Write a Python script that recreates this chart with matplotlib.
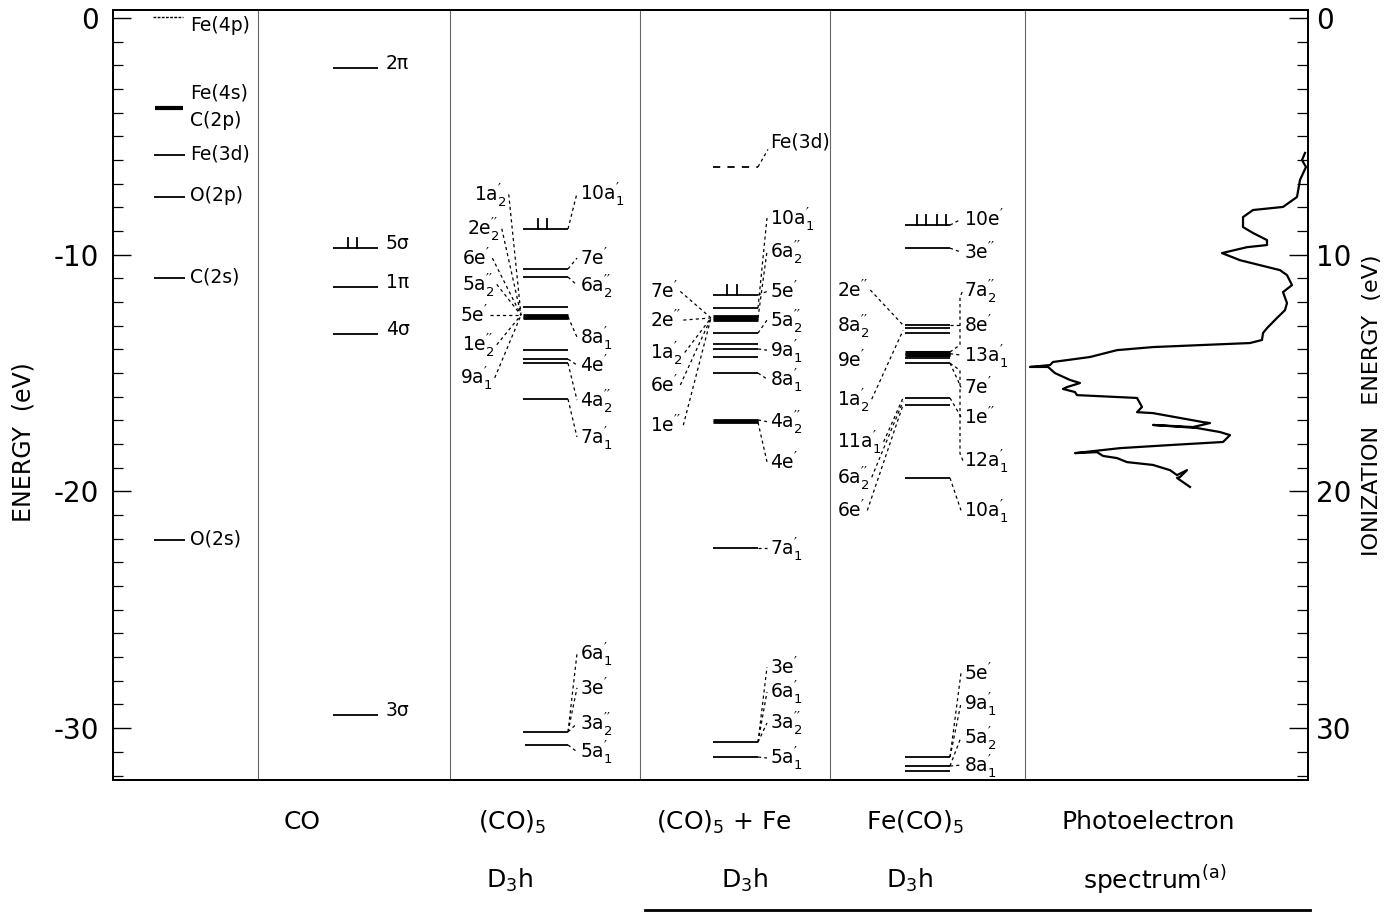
import matplotlib
matplotlib.use("Agg")
import matplotlib.pyplot as plt
from matplotlib.ticker import MultipleLocator, FixedLocator
from matplotlib.lines import Line2D

plt.rcParams['font.family'] = ['DejaVu Sans']
plt.rcParams['mathtext.fontset'] = 'dejavusans'
plt.rcParams['mathtext.default'] = 'regular'
plt.rcParams['axes.unicode_minus'] = False

# ------------------------------------------------------------------ data
# atomic orbitals (eV)
atom_levels = [0.05, -3.80, -5.79, -7.56, -10.98, -22.05]
atom_labels = ["Fe(4p)", "Fe(4s)", "C(2p)", "Fe(3d)", "O(2p)", "C(2s)", "O(2s)"]
atom_label_E = [-0.30, -3.17, -4.31, -5.75, -7.50, -10.95, -22.0]

# CO
co_levels = [-2.11, -9.72, -11.37, -13.35, -29.45]
co_labels = ["2π", "5σ", "1π", "4σ", "3σ"]

# (CO)5  D3h
co5_levels = [-8.91, -10.60, -10.94, -12.21, -12.55, -12.62, -12.69,
              -14.03, -14.41, -14.58, -16.10, -30.16, -30.71]
co5_left_labels = [r"1a$_2^{\prime}$", r"2e$_2^{\prime\prime}$", r"6e$^{\prime}$",
                   r"5a$_2^{\prime\prime}$", r"5e$^{\prime}$", r"1e$_2^{\prime\prime}$",
                   r"9a$_1^{\prime}$"]
co5_left_E = [-7.45, -8.90, -10.14, -11.25, -12.55, -13.80, -15.20]
co5_right_labels = [r"10a$_1^{\prime}$", r"7e$^{\prime}$", r"6a$_2^{\prime\prime}$",
                    r"8a$_1^{\prime}$", r"4e$^{\prime}$", r"4a$_2^{\prime\prime}$",
                    r"7a$_1^{\prime}$", r"6a$_1^{\prime}$", r"3e$^{\prime}$",
                    r"3a$_2^{\prime\prime}$", r"5a$_1^{\prime}$"]
co5_right_E = [-7.40, -10.14, -11.28, -13.48, -14.66, -16.14, -17.70,
               -26.85, -28.30, -29.80, -31.00]
co5_right_link = [-8.91, -10.60, -10.94, -12.62, -14.41, -14.58, -16.10,
                  -30.16, -30.16, -30.16, -30.71]

# (CO)5 + Fe  D3h
fe3d_level = -6.29
cofe_levels = [-11.70, -12.25, -12.60, -12.67, -12.74, -13.31, -13.77, -13.98,
               -14.32, -15.00, -16.98, -17.08, -22.39, -30.59, -31.22]
cofe_left_labels = [r"7e$^{\prime}$", r"2e$^{\prime\prime}$", r"1a$_2^{\prime}$",
                    r"6e$^{\prime}$", r"1e$^{\prime\prime}$"]
cofe_left_E = [-11.55, -12.76, -14.13, -15.50, -17.20]
cofe_right_labels = [r"10a$_1^{\prime}$", r"6a$_2^{\prime\prime}$", r"5e$^{\prime}$",
                     r"5a$_2^{\prime\prime}$", r"9a$_1^{\prime}$", r"8a$_1^{\prime}$",
                     r"4a$_2^{\prime\prime}$", r"4e$^{\prime}$", r"7a$_1^{\prime}$",
                     r"3e$^{\prime}$", r"6a$_1^{\prime}$", r"3a$_2^{\prime\prime}$",
                     r"5a$_1^{\prime}$"]
cofe_right_E = [-8.45, -9.85, -11.55, -12.76, -14.03, -15.25, -17.05, -18.75,
                -22.39, -27.42, -28.47, -29.78, -31.26]
cofe_right_link = [-12.25, -12.67, -11.70, -13.31, -13.98, -15.00, -16.98, -17.08,
                   -22.39, -30.59, -30.59, -30.59, -31.22]

# Fe(CO)5  D3h
feco_levels = [-8.75, -9.72, -12.97, -13.10, -13.31, -14.11, -14.18, -14.24,
               -14.36, -14.58, -16.05, -16.35, -19.43, -31.22, -31.60, -31.81]
feco_left_labels = [r"2e$^{\prime\prime}$", r"8a$_2^{\prime\prime}$", r"9e$^{\prime}$",
                    r"1a$_2^{\prime}$", r"11a$_1^{\prime}$", r"6a$_2^{\prime\prime}$",
                    r"6e$^{\prime}$"]
feco_left_E = [-11.49, -12.97, -14.45, -16.10, -17.90, -19.40, -20.80]
feco_left_link = [-12.97, None, None, -13.20, -16.05, -16.20, -16.35]
feco_right_labels = [r"10e$^{\prime}$", r"3e$^{\prime\prime}$", r"7a$_2^{\prime\prime}$",
                     r"8e$^{\prime}$", r"13a$_1^{\prime}$", r"7e$^{\prime}$",
                     r"1e$^{\prime\prime}$", r"12a$_1^{\prime}$", r"10a$_1^{\prime}$",
                     r"5e$^{\prime}$", r"9a$_1^{\prime}$", r"5a$_2^{\prime}$",
                     r"8a$_1^{\prime}$"]
feco_right_E = [-8.50, -9.89, -11.49, -12.97, -14.24, -15.60, -16.85, -18.70,
                -20.80, -27.67, -28.94, -30.38, -31.56]
feco_right_link = [-8.75, -9.72, -14.11, -12.97, -14.18, -14.58, -16.05, -14.58,
                   -19.43, -31.22, -31.22, -31.60, -31.60]

# photoelectron spectrum: ionization energy (eV) and intensity (arb.)
spec_IE = [5.70, 6.00, 6.29, 6.84, 7.56, 7.98, 8.11, 8.41, 8.83, 9.08, 9.38, 9.59,
           9.68, 9.93, 10.23, 10.44, 10.65, 10.86, 11.28, 11.58, 12.04, 12.34, 12.67,
           13.10, 13.31, 13.60, 13.73, 13.90, 14.03, 14.32, 14.53, 14.66, 14.74, 14.74,
           15.00, 15.29, 15.42, 15.59, 15.67, 15.80, 15.93, 16.05, 16.43, 16.65, 16.69,
           17.07, 17.11, 17.28, 17.19, 17.32, 17.49, 17.62, 17.91, 18.04, 18.17, 18.38,
           18.34, 18.50, 18.59, 18.76, 18.88, 19.10, 19.31, 19.10, 19.39, 19.43, 19.81]
spec_I = [3, 6, 2, 8, 11, 25, 55, 65, 65, 55, 41, 41, 61, 86, 68, 48, 28, 21, 16, 25,
          21, 23, 31, 41, 45, 46, 58, 155, 191, 218, 255, 258, 278, 260, 253, 238, 228,
          241, 245, 233, 231, 171, 166, 171, 155, 105, 98, 115, 155, 111, 88, 78, 85,
          138, 188, 233, 211, 205, 191, 181, 155, 138, 131, 121, 128, 131, 118]

left_ticks = [0, -10, -20, -30]
right_ticks = [0, 10, 20, 30]
bottom_titles = ["CO", "(CO)$_5$", "(CO)$_5$ + Fe", "Fe(CO)$_5$", "Photoelectron"]
bottom_sub = ["D$_3$h", "D$_3$h", "D$_3$h", "spectrum$^{(a)}$"]

# ------------------------------------------------------------------ figure
W, H = 1397, 915
fig = plt.figure(figsize=(W / 100, H / 100), dpi=100)
ax = fig.add_axes([113 / W, 1 - 780 / H, (1308 - 113) / W, 770 / H])
ax.set_xlim(113, 1308)
ax.set_ylim(-32.19, 0.34)
ax.set_xticks([])
ax.yaxis.set_major_locator(FixedLocator(left_ticks))
ax.yaxis.set_minor_locator(MultipleLocator(1))
ax.tick_params(axis='y', which='major', direction='in', length=13, width=1.0,
               labelsize=20, pad=10)
ax.tick_params(axis='y', which='minor', direction='in', length=7, width=0.9)
for s in ax.spines.values():
    s.set_linewidth(1.4)

ax2 = ax.twinx()
ax2.set_ylim(32.19, -0.34)
ax2.yaxis.set_major_locator(FixedLocator(right_ticks))
ax2.yaxis.set_minor_locator(MultipleLocator(1))
ax2.tick_params(axis='y', which='major', direction='in', length=14, width=1.0,
                labelsize=20, pad=6)
ax2.tick_params(axis='y', which='minor', direction='in', length=8, width=0.9)
for s in ax2.spines.values():
    s.set_linewidth(1.4)

for xs in [258, 450, 640, 830, 1025]:
    ax.axvline(xs, color='0.4', lw=0.8)

DASH = (0, (2.5, 2.5))
FS = 13.5


def level(x0, x1, E, lw=1.3, ls='-'):
    ax.plot([x0, x1], [E, E], color='k', lw=lw, ls=ls, solid_capstyle='butt')


def spikes(xs, E):
    for x in xs:
        ax.plot([x, x], [E, E + 0.42], color='k', lw=1.3)


renderer = fig.canvas.get_renderer()


def left_label(text, x, E, target):
    t = ax.text(x, E, text, ha='left', va='center', fontsize=FS)
    if target is None:
        return
    bb = t.get_window_extent(renderer=renderer)
    xe = ax.transData.inverted().transform((bb.x1, bb.y0))[0] + 2
    ax.plot([xe, target[0]], [E, target[1]], ls=DASH, color='k', lw=0.9)


def right_label(text, x, E, x_line, E_line, elbow=False):
    ax.text(x, E, text, ha='left', va='center', fontsize=FS)
    if E_line is None:
        return
    if elbow:
        xm = x - 4
        sgn = 1 if E < E_line else -1
        ax.plot([x_line, xm, xm, x - 1],
                [E_line, E_line - 0.3 * sgn, E + 0.3 * sgn, E],
                ls=DASH, color='k', lw=0.9)
    else:
        ax.plot([x_line, x - 3], [E_line, E], ls=DASH, color='k', lw=0.9)


# atomic column
for i, E in enumerate(atom_levels):
    if i == 0:
        level(153, 183, E, lw=1.0, ls=(0, (2, 1)))
    elif i == 1:
        level(155, 183, E, lw=3.0)
    else:
        level(154, 185, E)
for lab, E in zip(atom_labels, atom_label_E):
    ax.text(190, E, lab, ha='left', va='center', fontsize=FS)

# CO column
for lab, E in zip(co_labels, co_levels):
    level(333, 378, E)
    ax.text(386, E + 0.2, lab, ha='left', va='center', fontsize=FS)
spikes([348, 357], co_levels[1])

# (CO)5 column
for i, E in enumerate(co5_levels):
    level(523 if i != len(co5_levels) - 1 else 525, 568, E,
          lw=2.0 if -12.7 < E < -12.5 else 1.3)
spikes([538, 547], co5_levels[0])
co5_left_x = [474, 467, 462, 462, 460, 462, 460]
for lab, x, E in zip(co5_left_labels, co5_left_x, co5_left_E):
    left_label(lab, x, E, (521, -12.55))
for lab, E, L in zip(co5_right_labels, co5_right_E, co5_right_link):
    right_label(lab, 580, E, 568, L)

# (CO)5 + Fe column
level(713, 758, fe3d_level, ls=(0, (4, 4)))
ax.text(770, -5.24, "Fe(3d)", ha='left', va='center', fontsize=FS)
ax.plot([758, 768], [fe3d_level, -5.55], ls=DASH, color='k', lw=0.9)
for E in cofe_levels:
    level(713, 758, E, lw=2.0 if -12.75 < E < -12.55 or -17.1 < E < -16.9 else 1.3)
spikes([727, 737], cofe_levels[0])
for lab, E in zip(cofe_left_labels, cofe_left_E):
    left_label(lab, 650, E, (711, -12.67))
for lab, E, L in zip(cofe_right_labels, cofe_right_E, cofe_right_link):
    right_label(lab, 770, E, 758, L)

# Fe(CO)5 column
for E in feco_levels:
    level(905, 950, E, lw=2.2 if -14.3 < E < -14.0 else 1.3)
spikes([917, 926, 937, 946], feco_levels[0])
for lab, E, L in zip(feco_left_labels, feco_left_E, feco_left_link):
    left_label(lab, 837, E, None if L is None else (903, L))
for k, (lab, E, L) in enumerate(zip(feco_right_labels, feco_right_E, feco_right_link)):
    right_label(lab, 964, E, 950, L, elbow=(k in (2, 7)))

# photoelectron spectrum
ax.plot([1308 - v for v in spec_I], [-e for e in spec_IE], color='k', lw=1.6)

# axis titles
fig.text(24 / W, 1 - 442 / H, "ENERGY  (eV)", rotation=90, ha='center', va='center',
         fontsize=17)
fig.text(1372 / W, 1 - 405 / H, "IONIZATION   ENERGY  (eV)", rotation=90, ha='center',
         va='center', fontsize=16)

# bottom titles
title_x = [302, 512, 724, 915, 1148]
for s, x in zip(bottom_titles, title_x):
    fig.text(x / W, 1 - 822 / H, s, ha='center', va='center', fontsize=18)
sub_x = [510, 745, 910, 1155]
for s, x in zip(bottom_sub, sub_x):
    fig.text(x / W, 1 - 880 / H, s, ha='center', va='center', fontsize=18)
fig.add_artist(Line2D([645 / W, 1310 / W], [1 - 910 / H, 1 - 910 / H], color='k', lw=2))

fig.savefig("out.png", dpi=100)
